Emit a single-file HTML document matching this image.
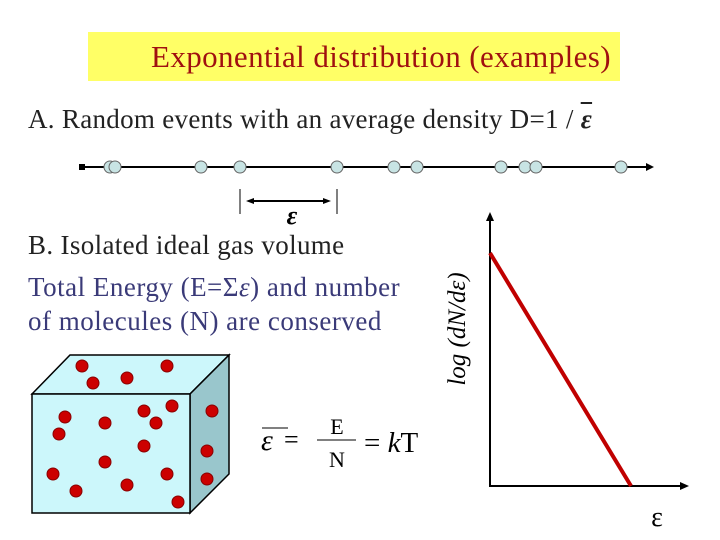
<!DOCTYPE html>
<html><head><meta charset="utf-8"><style>
body{margin:0;width:720px;height:540px;background:#fff;overflow:hidden;position:relative;font-family:"Liberation Serif",serif}
.t{position:absolute;white-space:nowrap}
</style></head><body>
<div style="position:absolute;left:88px;top:32px;width:532px;height:49px;background:#ffff66"></div>
<div class="t" style="left:151px;top:39px;font-size:31px;line-height:36px;color:#a01010;letter-spacing:0.4px">Exponential distribution (examples)</div>
<div class="t" style="left:28px;top:104px;font-size:27px;line-height:30px;color:#222;letter-spacing:0.3px">A. Random events with an average density D=1 / <b><i style="text-decoration:overline">ε</i></b></div>
<div class="t" style="left:28px;top:230px;font-size:27px;line-height:30px;color:#222;letter-spacing:0.35px">B. Isolated ideal gas volume</div>
<div class="t" style="left:28px;top:270px;font-size:27px;color:#3a3a78;line-height:34px;letter-spacing:0.5px">Total Energy (E=Σ<i>ε</i>) and number<br>of molecules (N) are conserved</div>

<svg width="720" height="540" style="position:absolute;left:0;top:0">
  <g>
    <line x1="82" y1="167" x2="648" y2="167" stroke="#000" stroke-width="2"/>
    <rect x="79" y="164" width="6" height="6" fill="#000"/>
    <polygon points="654,167 646,163 646,171" fill="#000"/>
    <g id="evdots"></g>
    <line x1="240" y1="189" x2="240" y2="214" stroke="#000" stroke-width="1"/>
    <line x1="337" y1="189" x2="337" y2="214" stroke="#000" stroke-width="1"/>
    <line x1="250" y1="201" x2="327" y2="201" stroke="#000" stroke-width="2"/>
    <polygon points="246,201 254,198 254,204" fill="#000"/>
    <polygon points="331,201 323,198 323,204" fill="#000"/>
    <text x="292" y="224" font-size="26" font-weight="bold" font-style="italic" text-anchor="middle" font-family="Liberation Serif, serif">ε</text>
  </g>
  <g>
    <polygon points="32,394 70,355 229,355 190,394" fill="#ccf7fb" stroke="#000" stroke-width="1.5"/>
    <polygon points="190,394 229,355 229,474 190,513" fill="#99c6cc" stroke="#000" stroke-width="1.5"/>
    <rect x="32" y="394" width="158" height="119" fill="#ccf7fb" stroke="#000" stroke-width="1.5"/>
    <g id="molecules"></g>
  </g>
  <g font-family="Liberation Serif, serif">
    <text x="261" y="450" font-size="30" font-style="italic">ε</text>
    <line x1="262" y1="428" x2="288" y2="428" stroke="#000" stroke-width="1"/>
    <text x="284" y="448" font-size="26">=</text>
    <text x="337" y="434" font-size="22" text-anchor="middle">E</text>
    <line x1="317" y1="440" x2="356" y2="440" stroke="#000" stroke-width="1"/>
    <text x="337" y="467" font-size="22" text-anchor="middle">N</text>
    <text x="364" y="452" font-size="29">= <tspan font-style="italic">k</tspan>T</text>
  </g>
  <g>
    <line x1="490" y1="487" x2="490" y2="218" stroke="#000" stroke-width="2"/>
    <polygon points="490,212 486,221 494,221" fill="#000"/>
    <line x1="489" y1="486" x2="682" y2="486" stroke="#000" stroke-width="2"/>
    <polygon points="689,486 680,482 680,490" fill="#000"/>
    <text transform="translate(465,329) rotate(-90)" font-size="25" font-style="italic" text-anchor="middle" font-family="Liberation Serif, serif">log (dN/dε)</text>
    <text x="657" y="526" font-size="28" text-anchor="middle" font-family="Liberation Serif, serif">ε</text>
    <polyline id="series" fill="none" stroke="#c00000" stroke-width="4"/>
  </g>
</svg>
<script>
const eventPositions=[110,115,201,240,337,394,417,501,525,536,621];
const energies=[0,1];
const logDensity=[1,0];
const molecules=[[82,366],[167,366],[93,383],[127,378],[65,417],[105,423],[144,411],[172,406],[156,423],[212,411],[59,434],[144,446],[207,451],[105,462],[53,474],[167,474],[207,479],[76,491],[127,485],[178,502]];
const NS="http://www.w3.org/2000/svg";
const ev=document.getElementById('evdots');
eventPositions.forEach(x=>{const c=document.createElementNS(NS,'circle');
c.setAttribute('cx',x);c.setAttribute('cy',167);c.setAttribute('r',6);c.setAttribute('fill','#c8e4e4');c.setAttribute('stroke','#666');


ev.appendChild(c);});
const mg=document.getElementById('molecules');
molecules.forEach(p=>{const c=document.createElementNS(NS,'circle');
c.setAttribute('cx',p[0]);c.setAttribute('cy',p[1]);c.setAttribute('r',6);c.setAttribute('fill','#cc0000');c.setAttribute('stroke','#800');


mg.appendChild(c);});
const xS=e=>490+e*141, yS=v=>486-v*233;
const s=document.getElementById('series');
s.setAttribute('points',energies.map((e,i)=>xS(e)+','+yS(logDensity[i])).join(' '));


</script>
</body></html>
